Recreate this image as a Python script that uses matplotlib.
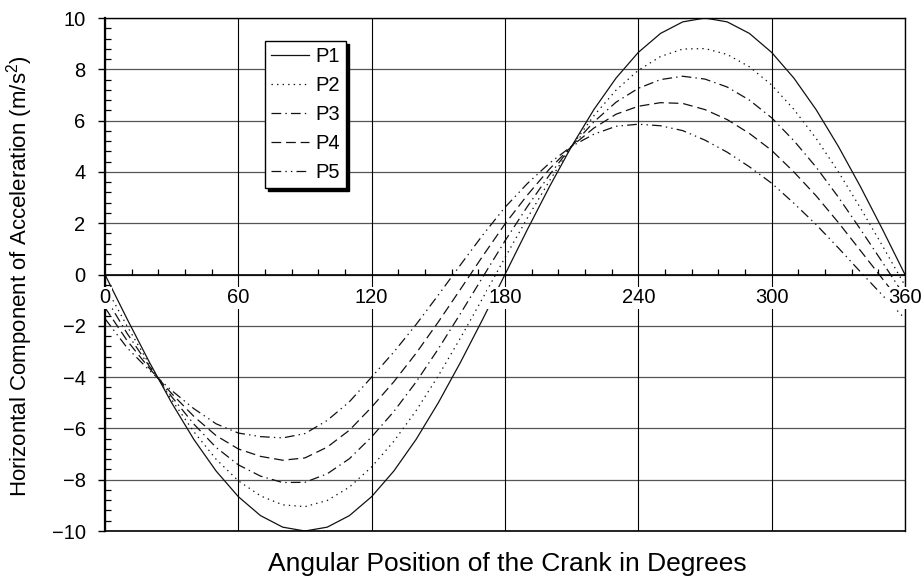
import matplotlib
matplotlib.use("Agg")
import matplotlib.pyplot as plt
from matplotlib.ticker import MultipleLocator

plt.rcParams['font.family'] = ['Liberation Sans', 'DejaVu Sans']
plt.rcParams['mathtext.default'] = 'regular'
plt.rcParams['lines.scale_dashes'] = False

# crank angle (deg) and horizontal acceleration (m/s^2) of points P1..P5
theta = [0, 10, 20, 30, 40, 50, 60, 70, 80, 90, 100, 110, 120, 130, 140, 150, 160, 170, 180,
         190, 200, 210, 220, 230, 240, 250, 260, 270, 280, 290, 300, 310, 320, 330, 340, 350, 360]

p1 = [0, -1.74, -3.42, -5.00, -6.43, -7.66, -8.66, -9.40, -9.85, -10.00, -9.85, -9.40, -8.66,
      -7.66, -6.43, -5.00, -3.42, -1.74, 0, 1.74, 3.42, 5.00, 6.43, 7.66, 8.66, 9.40, 9.85,
      10.00, 9.85, 9.40, 8.66, 7.66, 6.43, 5.00, 3.42, 1.74, 0]
p2 = [-0.43, -2.02, -3.50, -4.88, -6.13, -7.20, -8.04, -8.63, -8.98, -9.05, -8.81, -8.29, -7.50,
      -6.50, -5.31, -3.95, -2.47, -0.92, 0.66, 2.19, 3.65, 5.00, 6.19, 7.19, 7.96, 8.50, 8.79,
      8.81, 8.58, 8.10, 7.39, 6.44, 5.31, 4.01, 2.59, 1.10, -0.43]
p3 = [-0.86, -2.30, -3.58, -4.76, -5.83, -6.74, -7.42, -7.86, -8.11, -8.10, -7.77, -7.18, -6.33,
      -5.34, -4.19, -2.90, -1.52, -0.10, 1.31, 2.64, 3.88, 5.00, 5.95, 6.72, 7.26, 7.60, 7.73,
      7.62, 7.31, 6.80, 6.11, 5.22, 4.19, 3.02, 1.76, 0.46, -0.86]
p4 = [-1.29, -2.58, -3.66, -4.64, -5.53, -6.28, -6.80, -7.09, -7.24, -7.15, -6.73, -6.07, -5.17,
      -4.18, -3.07, -1.85, -0.57, 0.72, 1.97, 3.09, 4.11, 5.00, 5.71, 6.25, 6.56, 6.70, 6.67,
      6.43, 6.04, 5.50, 4.84, 4.00, 3.07, 2.03, 0.93, -0.18, -1.29]
p5 = [-1.72, -2.86, -3.74, -4.52, -5.23, -5.82, -6.18, -6.32, -6.37, -6.20, -5.69, -4.96, -4.00,
      -3.02, -1.95, -0.80, 0.38, 1.54, 2.62, 3.54, 4.34, 5.00, 5.47, 5.78, 5.86, 5.80, 5.61,
      5.24, 4.77, 4.20, 3.56, 2.78, 1.95, 1.04, 0.10, -0.82, -1.72]

labels = ["P1", "P2", "P3", "P4", "P5"]
styles = ['-', (0, (1, 3)), (0, (7, 3, 1, 3)), (0, (7, 3.5)), (0, (7, 3, 1, 3, 1, 3))]

fig = plt.figure(figsize=(9.24, 5.76), dpi=100)
ax = fig.add_axes([0.1136, 0.0781, 0.8658, 0.8906])

for ys, lab, ls in zip([p1, p2, p3, p4, p5], labels, styles):
    ax.plot(theta, ys, color='#111111', lw=0.9, linestyle=ls, label=lab)

ax.set_xlim(0, 360)
ax.set_ylim(-10, 10)

# x axis runs through zero, box closed by a line at the bottom
ax.spines['bottom'].set_position(('data', 0))
ax.spines['bottom'].set_linewidth(1.2)
ax.spines['left'].set_linewidth(1.6)
ax.spines['top'].set_linewidth(1.0)
ax.spines['right'].set_linewidth(1.0)
ax.axhline(-10, color='black', lw=1.2, clip_on=False)

ax.xaxis.set_major_locator(MultipleLocator(60))
ax.xaxis.set_minor_locator(MultipleLocator(12))
ax.yaxis.set_major_locator(MultipleLocator(2))
ax.yaxis.set_minor_locator(MultipleLocator(0.4))

ax.tick_params(axis='x', which='major', length=0, pad=10, labelsize=14.5)
ax.tick_params(axis='x', which='minor', direction='in', length=4, width=0.9)
ax.tick_params(axis='y', which='major', direction='out', length=5, width=1.0, labelsize=14.5, pad=9)
ax.tick_params(axis='y', which='minor', direction='in', length=4, width=0.9)

ax.xaxis.grid(True, which='major', color='black', lw=0.8)
ax.yaxis.grid(True, which='major', color='#555555', lw=0.9)
ax.xaxis.set_zorder(3)
for t in ax.get_xticklabels():
    t.set_bbox(dict(facecolor='white', edgecolor='none', pad=1))

fig.text(0.021, 0.52, "Horizontal Component of Acceleration (m/s$^{2}$)", fontsize=16,
         rotation=90, ha='center', va='center')
fig.text(0.549, 0.02, "Angular Position of the Crank in Degrees", fontsize=19,
         ha='center', va='center')

leg = ax.legend(loc='upper left', bbox_to_anchor=(0.2, 0.955), fontsize=14.5, frameon=True,
                fancybox=False, edgecolor='black', framealpha=1,
                shadow={'facecolor': 'black', 'edgecolor': 'black', 'alpha': 1},
                handlelength=1.9, handletextpad=0.3, labelspacing=0.5, borderpad=0.3,
                borderaxespad=0)
leg.get_frame().set_linewidth(1.0)
leg.set_zorder(5)

fig.savefig("out.png", dpi=100)
